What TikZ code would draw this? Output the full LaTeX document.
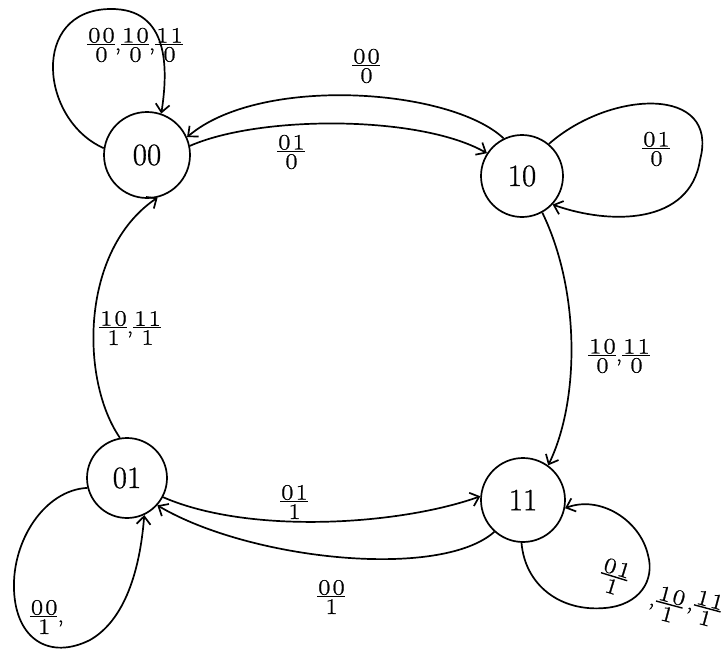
\documentclass[tikz,border=0pt]{standalone}
\usepackage{fontspec}
\setmainfont{Latin Modern Roman}
\newfontfamily\lblf{Latin Modern Roman}[FakeStretch=1.2,LetterSpace=10,FakeBold=1]
\newfontfamily\statef{Latin Modern Roman}[FakeBold=1]
\usetikzlibrary{arrows.meta}
\newcommand{\fr}[2]{\ensuremath{\vcenter{\halign{\hfil\kern1pt##\hfil\cr #1\cr\noalign{\kern1pt\hrule height 1.4pt\kern2pt}#2\cr}}}}
\begin{document}
\begin{tikzpicture}[x=1pt,y=-1pt,
  state/.style={draw,circle,line width=1.7pt,inner sep=0pt,font=\statef\fontsize{31}{33}\selectfont},
  tr/.style={line width=1.7pt,-{Straight Barb[length=8pt,width=14pt]}},
  lbl/.style={inner sep=0pt,font=\lblf\fontsize{22}{24}\selectfont}]
\useasboundingbox (0,0) rectangle (725,656);
\node[state,minimum size=86pt] (s00) at (147,155) {00};
\node[state,minimum size=82pt] (s10) at (522,176) {10};
\node[state,minimum size=80pt] (s01) at (127,478) {01};
\node[state,minimum size=84pt] (s11) at (523,500) {11};
% self loops
\draw[tr] (s00.171) .. controls (40,120) and (30,10) .. (110,9) .. controls (170,8) and (168,70) .. (s00.71);
\draw[tr] (s10.50) .. controls (610,90) and (720,85) .. (700,160) .. controls (690,225) and (610,225) .. (s10.-43);
\draw[tr] (s01.194) .. controls (45,490) and (12,540) .. (14,590) .. controls (16,640) and (50,660) .. (90,640) .. controls (125,620) and (140,570) .. (s01.-65);
\draw[tr] (s11.-92) .. controls (525,585) and (560,612) .. (605,608) .. controls (640,605) and (655,580) .. (648,555) .. controls (640,520) and (600,495) .. (s11.-11);
% transitions
\draw[tr] (s10.116) .. controls (450,88) and (260,75) .. (s00.24);
\draw[tr] (s00.12) .. controls (260,115) and (420,115) .. (s10.147);
\draw[tr] (s10.-61) .. controls (580,290) and (580,400) .. (s11.54);
\draw[tr] (s01.100) .. controls (80,380) and (80,250) .. (s00.-76);
\draw[tr] (s01.-28) .. controls (250,535) and (400,525) .. (s11.175);
\draw[tr] (s11.-132) .. controls (440,580) and (250,560) .. (s01.-42);
% labels
\node[lbl] (l00) at (135,45) {\fr{00}{0},\fr{10}{0},\fr{11}{0}};
\node[lbl] (l10a) at (366,66) {\fr{00}{0}};
\node[lbl] (l00a) at (291,152) {\fr{01}{0}};
\node[lbl] (l10) at (656,149) {\fr{01}{0}};
\node[lbl] (l1011) at (619,356) {\fr{10}{0},\fr{11}{0}};
\node[lbl] (l0100) at (130,328) {\fr{10}{1},\fr{11}{1}};
\node[lbl] (l0111) at (294,502) {\fr{01}{1}};
\node[lbl] (l1101) at (331,597) {\fr{00}{1}};
\node[lbl] (l01) at (47,617) {\fr{00}{1},};
\node[lbl,rotate=-17] (l11a) at (614,577) {\fr{01}{1}};
\node[lbl,rotate=-15] (l11b) at (666,604) {,\fr{10}{1}};
\node[lbl,rotate=-15] (l11c) at (704,608) {,\fr{11}{1}};
\end{tikzpicture}
\end{document}
